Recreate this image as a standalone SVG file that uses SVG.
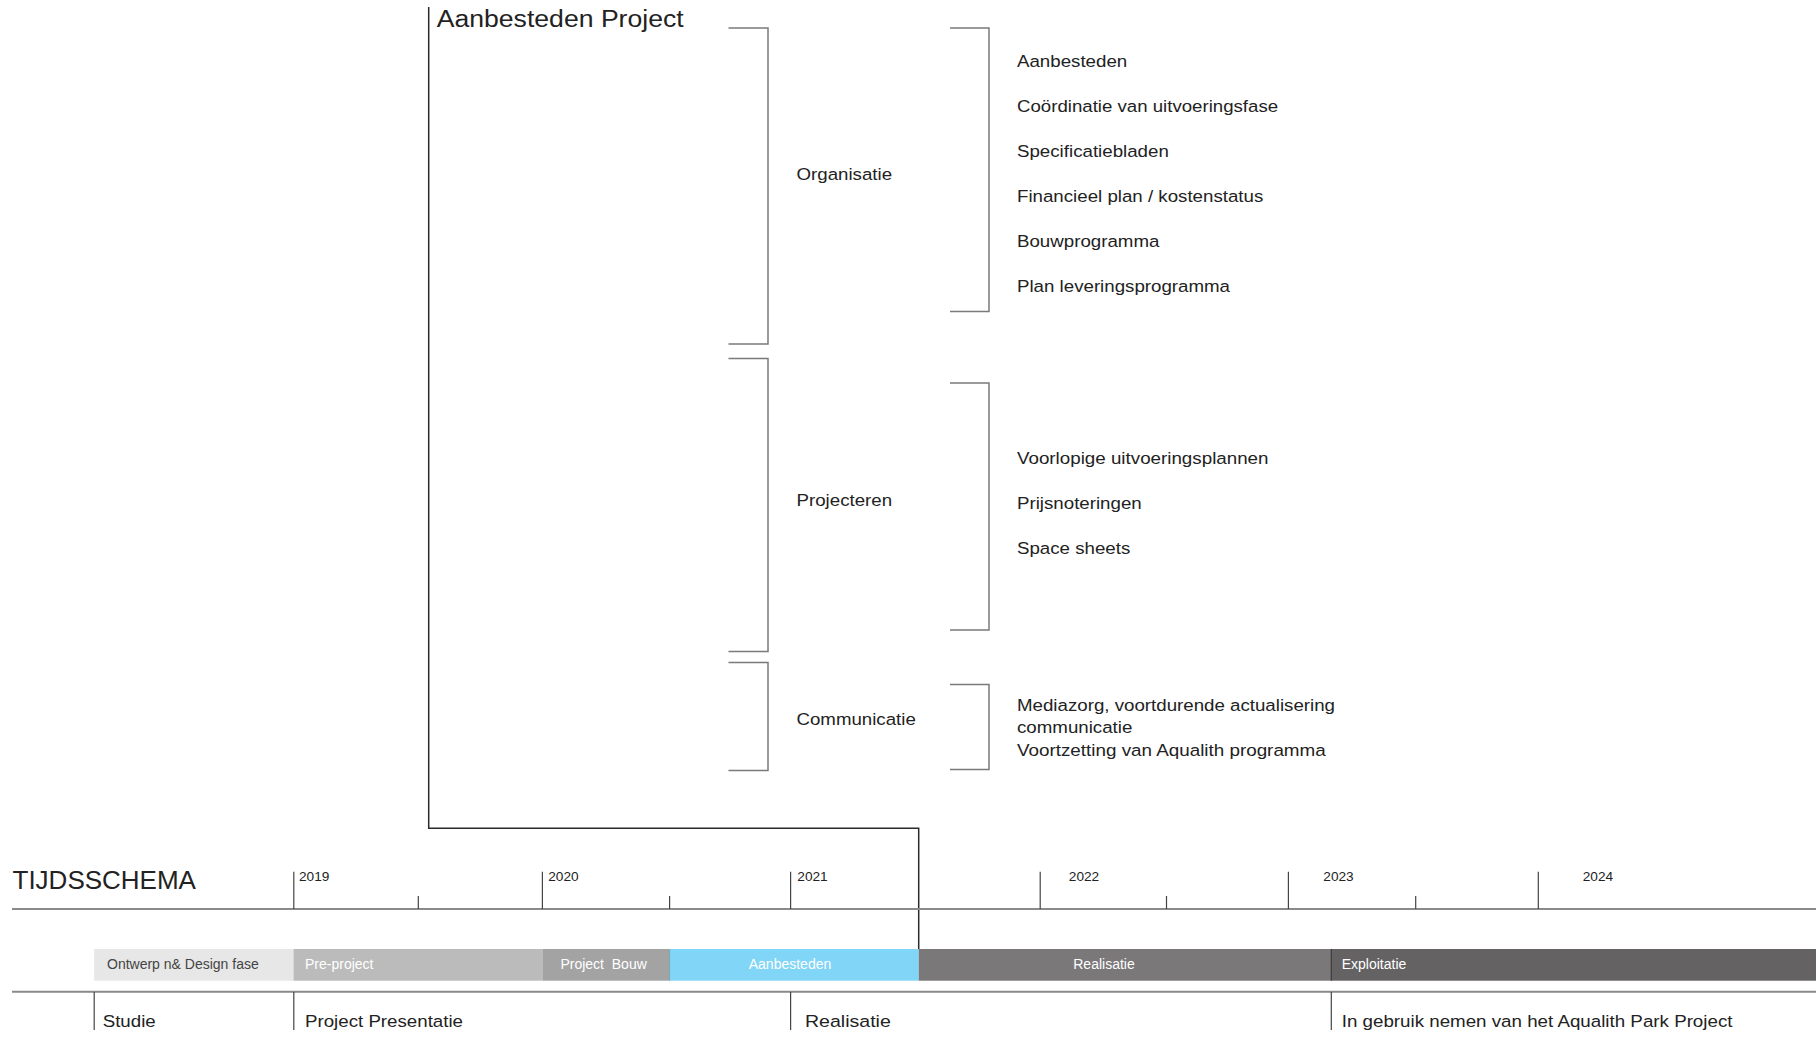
<svg xmlns="http://www.w3.org/2000/svg" width="1816" height="1037" viewBox="0 0 1816 1037">
<style>
  text { font-family: "Liberation Sans", Arial, sans-serif; fill: #222; }
  .title { font-size: 23.5px; }
  .cat { font-size: 17.2px; }
  .item { font-size: 17.2px; }
  .year { font-size: 13px; }
  .bar { font-size: 14px; fill: #ffffff; white-space: pre; }
  .bar.dark { fill: #444; }
  .big { font-size: 26px; }
  .bottom { font-size: 17.2px; }
  .bracket { fill: none; stroke: #7a7a7a; stroke-width: 1.5; }
  .conn { fill: none; stroke: #2a2a2a; stroke-width: 1.5; }
  .axis { stroke: #8a8a8a; stroke-width: 2; }
  .tick { stroke: #444; stroke-width: 1.2; }
</style>
<rect width="1816" height="1037" fill="#ffffff"/>

<g id="connectors">
  <path class="conn" d="M428.7 7 V828.3 H918.7 V949"/>
  <path class="bracket" d="M728.5 28 H768 V344 H728.5"/>
  <path class="bracket" d="M728.5 358.5 H768 V651.5 H728.5"/>
  <path class="bracket" d="M728.5 662.5 H768 V770.5 H728.5"/>
  <path class="bracket" d="M950 28 H989 V311.5 H950"/>
  <path class="bracket" d="M950 383 H989 V630 H950"/>
  <path class="bracket" d="M950 684.5 H989 V769.5 H950"/>
</g>

<g id="node-root">
  <text class="title" x="436.7" y="27.3" textLength="247" lengthAdjust="spacingAndGlyphs">Aanbesteden Project</text>
</g>

<g id="node-organisatie">
  <text class="cat" x="796.5" y="180" textLength="95.6" lengthAdjust="spacingAndGlyphs">Organisatie</text>
</g>
<g id="node-organisatie-items">
  <text class="item" x="1017" y="66.7" textLength="110.2" lengthAdjust="spacingAndGlyphs">Aanbesteden</text>
  <text class="item" x="1017" y="111.7" textLength="261.1" lengthAdjust="spacingAndGlyphs">Coördinatie van uitvoeringsfase</text>
  <text class="item" x="1017" y="156.7" textLength="151.8" lengthAdjust="spacingAndGlyphs">Specificatiebladen</text>
  <text class="item" x="1017" y="201.7" textLength="246.3" lengthAdjust="spacingAndGlyphs">Financieel plan / kostenstatus</text>
  <text class="item" x="1017" y="246.7" textLength="142.4" lengthAdjust="spacingAndGlyphs">Bouwprogramma</text>
  <text class="item" x="1017" y="291.7" textLength="213" lengthAdjust="spacingAndGlyphs">Plan leveringsprogramma</text>
</g>

<g id="node-projecteren">
  <text class="cat" x="796.5" y="505.7" textLength="95.6" lengthAdjust="spacingAndGlyphs">Projecteren</text>
</g>
<g id="node-projecteren-items">
  <text class="item" x="1017" y="463.8" textLength="251.5" lengthAdjust="spacingAndGlyphs">Voorlopige uitvoeringsplannen</text>
  <text class="item" x="1017" y="508.8" textLength="124.7" lengthAdjust="spacingAndGlyphs">Prijsnoteringen</text>
  <text class="item" x="1017" y="553.8" textLength="113.3" lengthAdjust="spacingAndGlyphs">Space sheets</text>
</g>

<g id="node-communicatie">
  <text class="cat" x="796.5" y="725" textLength="119.3" lengthAdjust="spacingAndGlyphs">Communicatie</text>
</g>
<g id="node-communicatie-items">
  <text class="item" x="1017" y="710.5" textLength="318" lengthAdjust="spacingAndGlyphs">Mediazorg, voortdurende actualisering</text>
  <text class="item" x="1017" y="733" textLength="115.3" lengthAdjust="spacingAndGlyphs">communicatie</text>
  <text class="item" x="1017" y="755.5" textLength="308.7" lengthAdjust="spacingAndGlyphs">Voortzetting van Aqualith programma</text>
</g>

<g id="timeline">
  <text class="big" x="12.5" y="889.3">TIJDSSCHEMA</text>
  <line class="axis" x1="12" y1="909" x2="1816" y2="909"/>
  <g id="ticks">
    <line class="tick" x1="293.8" y1="871.7" x2="293.8" y2="909"/>
    <line class="tick" x1="542.4" y1="871.7" x2="542.4" y2="909"/>
    <line class="tick" x1="790.6" y1="871.7" x2="790.6" y2="909"/>
    <line class="tick" x1="1040.2" y1="871.7" x2="1040.2" y2="909"/>
    <line class="tick" x1="1288.4" y1="871.7" x2="1288.4" y2="909"/>
    <line class="tick" x1="1538.3" y1="871.7" x2="1538.3" y2="909"/>
    <line class="tick" x1="418.3" y1="896" x2="418.3" y2="909"/>
    <line class="tick" x1="669.6" y1="896" x2="669.6" y2="909"/>
    <line class="tick" x1="1166.5" y1="896" x2="1166.5" y2="909"/>
    <line class="tick" x1="1415.7" y1="896" x2="1415.7" y2="909"/>
  </g>
  <g id="years">
    <text class="year" x="299" y="880.7" textLength="30.4" lengthAdjust="spacingAndGlyphs">2019</text>
    <text class="year" x="548.2" y="880.7" textLength="30.4" lengthAdjust="spacingAndGlyphs">2020</text>
    <text class="year" x="797.3" y="880.7" textLength="30.4" lengthAdjust="spacingAndGlyphs">2021</text>
    <text class="year" x="1068.8" y="880.7" textLength="30.4" lengthAdjust="spacingAndGlyphs">2022</text>
    <text class="year" x="1323.3" y="880.7" textLength="30.4" lengthAdjust="spacingAndGlyphs">2023</text>
    <text class="year" x="1582.7" y="880.7" textLength="30.4" lengthAdjust="spacingAndGlyphs">2024</text>
  </g>
</g>

<g id="phase-ontwerp">
  <rect x="94.2" y="949" width="199.3" height="31.7" fill="#e7e7e7"/>
  <text class="bar dark" x="107" y="969.3">Ontwerp n&amp; Design fase</text>
</g>
<g id="phase-preproject">
  <rect x="293.5" y="949" width="248.9" height="31.7" fill="#bbbbbb"/>
  <text class="bar" x="305" y="969.3">Pre-project</text>
</g>
<g id="phase-bouw">
  <rect x="542.4" y="949" width="127.2" height="31.7" fill="#a3a3a3"/>
  <text class="bar" x="603.6" y="969.3" text-anchor="middle">Project  Bouw</text>
</g>
<g id="phase-aanbesteden">
  <rect x="669.6" y="949" width="249.1" height="31.7" fill="#81d5f7"/>
  <line x1="669.6" y1="949" x2="669.6" y2="980.7" stroke="#7aa6b6" stroke-width="1"/>
  <text class="bar" x="790" y="969.3" text-anchor="middle">Aanbesteden</text>
</g>
<g id="phase-realisatie">
  <rect x="918.7" y="949" width="412.6" height="31.7" fill="#7a7879"/>
  <text class="bar" x="1104" y="969.3" text-anchor="middle">Realisatie</text>
</g>
<g id="phase-exploitatie">
  <rect x="1331.3" y="949" width="484.7" height="31.7" fill="#646263"/>
  <line x1="1331.3" y1="949" x2="1331.3" y2="980.7" stroke="#3a3a3a" stroke-width="1.2"/>
  <text class="bar" x="1341.7" y="969.3">Exploitatie</text>
</g>

<g id="milestones">
  <line class="axis" x1="12" y1="991.7" x2="1816" y2="991.7"/>
  <line class="tick" x1="94.2" y1="992" x2="94.2" y2="1030"/>
  <line class="tick" x1="293.8" y1="992" x2="293.8" y2="1030"/>
  <line class="tick" x1="790.6" y1="992" x2="790.6" y2="1030"/>
  <line class="tick" x1="1331.3" y1="992" x2="1331.3" y2="1030"/>
  <text class="bottom" x="102.7" y="1026.7" textLength="53" lengthAdjust="spacingAndGlyphs">Studie</text>
  <text class="bottom" x="305" y="1026.7" textLength="158" lengthAdjust="spacingAndGlyphs">Project Presentatie</text>
  <text class="bottom" x="805" y="1026.7" textLength="85.8" lengthAdjust="spacingAndGlyphs">Realisatie</text>
  <text class="bottom" x="1341.7" y="1026.7" textLength="390.8" lengthAdjust="spacingAndGlyphs">In gebruik nemen van het Aqualith Park Project</text>
</g>
</svg>
